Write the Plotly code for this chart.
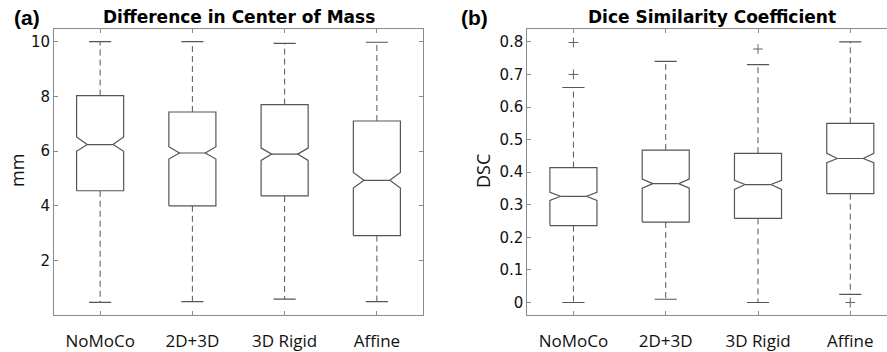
import plotly.graph_objects as go

# ---------------- data ----------------
categories = ["NoMoCo", "2D+3D", "3D Rigid", "Affine"]
positions = [1, 2, 3, 4]

# (a) Difference in Center of Mass (mm)
com_lower = [0.47, 0.50, 0.59, 0.50]
com_q1 = [4.55, 4.00, 4.36, 2.91]
com_notch_low = [5.99, 5.71, 5.66, 4.65]
com_median = [6.24, 5.93, 5.89, 4.93]
com_notch_high = [6.52, 6.16, 6.11, 5.22]
com_q3 = [8.03, 7.43, 7.70, 7.10]
com_upper = [10.00, 10.00, 9.94, 9.98]
com_outliers = [[], [], [], []]

# (b) Dice Similarity Coefficient
dsc_lower = [0.000, 0.010, 0.000, 0.025]
dsc_q1 = [0.236, 0.247, 0.258, 0.334]
dsc_notch_low = [0.313, 0.351, 0.347, 0.429]
dsc_median = [0.326, 0.365, 0.362, 0.442]
dsc_notch_high = [0.338, 0.379, 0.375, 0.458]
dsc_q3 = [0.414, 0.468, 0.458, 0.550]
dsc_upper = [0.660, 0.740, 0.730, 0.800]
dsc_outliers = [[0.700, 0.798], [], [0.778], [0.000]]

com_ticks = [2, 4, 6, 8, 10]
dsc_ticks = [0, 0.1, 0.2, 0.3, 0.4, 0.5, 0.6, 0.7, 0.8]

# ---------------- styling ----------------
BOX_HALF = 0.255
NOTCH_HALF = 0.14
CAP_HALF = 0.12
LINE_COLOR = "#555555"
AXIS_COLOR = "#8a8a8a"

W, H = 887, 352


def px_x(p):
    return p / W


def px_y(p):
    return 1 - p / H


fig = go.Figure()


def add_boxes(xa, ya, lower, q1, nlo, med, nhi, q3, upper, outliers):
    bx, by = [], []
    wx, wy = [], []
    cx, cy = [], []
    ox, oy = [], []
    for i, x in enumerate(positions):
        bx += [x - BOX_HALF, x - BOX_HALF, x - NOTCH_HALF, x - BOX_HALF, x - BOX_HALF,
               x + BOX_HALF, x + BOX_HALF, x + NOTCH_HALF, x + BOX_HALF, x + BOX_HALF,
               x - BOX_HALF, None, x - NOTCH_HALF, x + NOTCH_HALF, None]
        by += [q1[i], nlo[i], med[i], nhi[i], q3[i],
               q3[i], nhi[i], med[i], nlo[i], q1[i],
               q1[i], None, med[i], med[i], None]
        wx += [x, x, None, x, x, None]
        wy += [q3[i], upper[i], None, q1[i], lower[i], None]
        cx += [x - CAP_HALF, x + CAP_HALF, None, x - CAP_HALF, x + CAP_HALF, None]
        cy += [upper[i], upper[i], None, lower[i], lower[i], None]
        for o in outliers[i]:
            ox.append(x)
            oy.append(o)
    fig.add_trace(go.Scatter(x=wx, y=wy, mode="lines", xaxis=xa, yaxis=ya,
                             line=dict(color=LINE_COLOR, width=1, dash="6px,4px"),
                             hoverinfo="skip", showlegend=False))
    fig.add_trace(go.Scatter(x=cx, y=cy, mode="lines", xaxis=xa, yaxis=ya,
                             line=dict(color=LINE_COLOR, width=1.2),
                             hoverinfo="skip", showlegend=False))
    fig.add_trace(go.Scatter(x=bx, y=by, mode="lines", xaxis=xa, yaxis=ya,
                             line=dict(color=LINE_COLOR, width=1.2),
                             hoverinfo="skip", showlegend=False))
    if ox:
        fig.add_trace(go.Scatter(x=ox, y=oy, mode="markers", xaxis=xa, yaxis=ya,
                                 marker=dict(symbol="cross-thin", size=7,
                                             line=dict(color=LINE_COLOR, width=0.9)),
                                 hoverinfo="skip", showlegend=False))


add_boxes("x", "y", com_lower, com_q1, com_notch_low, com_median, com_notch_high,
          com_q3, com_upper, com_outliers)
add_boxes("x2", "y2", dsc_lower, dsc_q1, dsc_notch_low, dsc_median, dsc_notch_high,
          dsc_q3, dsc_upper, dsc_outliers)

tick_font = dict(family="DejaVu Sans", size=15, color="#111111")
cat_font = dict(family="Open Sans", size=17, color="#111111")
ylab_font = dict(family="Open Sans", size=18, color="#111111")

common_x = dict(tickmode="array", tickvals=positions, ticktext=categories,
                ticks="inside", ticklen=4, tickcolor=AXIS_COLOR,
                showline=True, linecolor=AXIS_COLOR, linewidth=1,
                showgrid=False, zeroline=False, tickfont=cat_font,
                ticklabelstandoff=10, fixedrange=True)
common_y = dict(tickmode="array", ticks="inside", ticklen=4, tickcolor=AXIS_COLOR,
                showline=True, linecolor=AXIS_COLOR, linewidth=1,
                showgrid=False, zeroline=False, tickfont=tick_font,
                fixedrange=True)

y_dom = [px_y(317), px_y(29)]

fig.update_layout(
    width=W, height=H,
    margin=dict(l=0, r=0, t=0, b=0),
    paper_bgcolor="white", plot_bgcolor="white",
    xaxis=dict(domain=[px_x(54), px_x(423)], range=[0.5, 4.5], anchor="y",
               mirror="ticks", **common_x),
    yaxis=dict(domain=y_dom, range=[0, 10.47], anchor="x", mirror="ticks",
               tickvals=com_ticks, ticktext=[str(t) for t in com_ticks], **common_y),
    xaxis2=dict(domain=[px_x(527.3), 1.0], range=[0.5, 4.398], anchor="y2",
                mirror="ticks", **common_x),
    yaxis2=dict(domain=y_dom, range=[-0.039, 0.84], anchor="x2", mirror=False,
                tickvals=dsc_ticks, ticktext=[("%g" % t) for t in dsc_ticks],
                **common_y),
    showlegend=False,
)

title_font = dict(family="DejaVu Sans", size=17, color="black")
label_font = dict(family="Liberation Sans", size=21, color="black")

fig.add_annotation(text="<b>Difference in Center of Mass</b>", xref="paper", yref="paper",
                   x=px_x(238.5), y=px_y(17), xanchor="center", yanchor="middle",
                   showarrow=False, font=title_font)
fig.add_annotation(text="<b>Dice Similarity Coefficient</b>", xref="paper", yref="paper",
                   x=px_x(712), y=px_y(17), xanchor="center", yanchor="middle",
                   showarrow=False, font=title_font)
fig.add_annotation(text="<b>(a)</b>", xref="paper", yref="paper",
                   x=px_x(27), y=px_y(18), xanchor="center", yanchor="middle",
                   showarrow=False, font=label_font)
fig.add_annotation(text="<b>(b)</b>", xref="paper", yref="paper",
                   x=px_x(475), y=px_y(18), xanchor="center", yanchor="middle",
                   showarrow=False, font=label_font)
fig.add_annotation(text="mm", xref="paper", yref="paper", textangle=-90,
                   x=px_x(17), y=px_y(172), xanchor="center", yanchor="middle",
                   showarrow=False, font=ylab_font)
fig.add_annotation(text="DSC", xref="paper", yref="paper", textangle=-90,
                   x=px_x(483), y=px_y(172), xanchor="center", yanchor="middle",
                   showarrow=False, font=ylab_font)

fig.write_html("out.html")
